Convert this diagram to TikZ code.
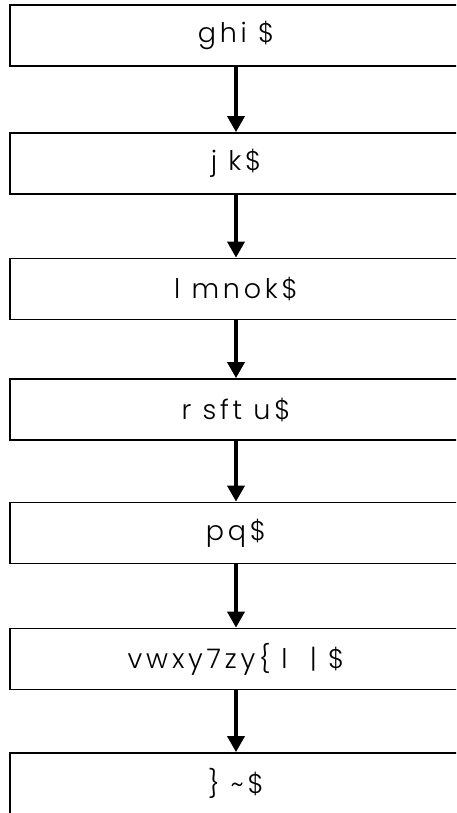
\documentclass[tikz,border=0pt]{standalone}
\usepackage{fontspec}
\setmainfont{Poppins}[LetterSpace=14, UprightFont=* Light]
\usetikzlibrary{shapes,arrows.meta,positioning,calc}

\begin{document}
\begin{tikzpicture}[x=1pt,y=1pt]
  % Define styles
  \tikzstyle{stage} = [rectangle, draw, minimum width=452pt, minimum height=61pt, line width=1.8pt, text centered, font=\fontsize{27}{31}\selectfont]
  \tikzstyle{arrow} = [line width=3.5pt, -{Triangle[width=17pt,length=16pt]}]

  \path[use as bounding box] (0,0) rectangle (456,-813);
  \begin{scope}
  \clip (0,0) rectangle (456,-813);

  % Stages stacked from top to bottom
  \node [stage] (s1) at (236,-35.5) {ghi \$};
  \node [stage] (s2) at (236,-163.5) {j k\$};
  \node [stage] (s3) at (236,-289) {l mnok\$};
  \node [stage] (s4) at (236,-409.5) {r sft u\$};
  \node [stage] (s5) at (236,-533) {pq\$};
  \node [stage] (s6) at (236,-659) {vwxy7zy\{ l \ | \$};
  \node [stage] (s7) at (236,-783.5) {\} \textasciitilde\$};

  % Flow between stages
  \draw [arrow] (s1.south) -- (s2.north);
  \draw [arrow] (s2.south) -- (s3.north);
  \draw [arrow] (s3.south) -- (s4.north);
  \draw [arrow] (s4.south) -- (s5.north);
  \draw [arrow] (s5.south) -- (s6.north);
  \draw [arrow] (s6.south) -- (s7.north);
  \end{scope}

\end{tikzpicture}
\end{document}
